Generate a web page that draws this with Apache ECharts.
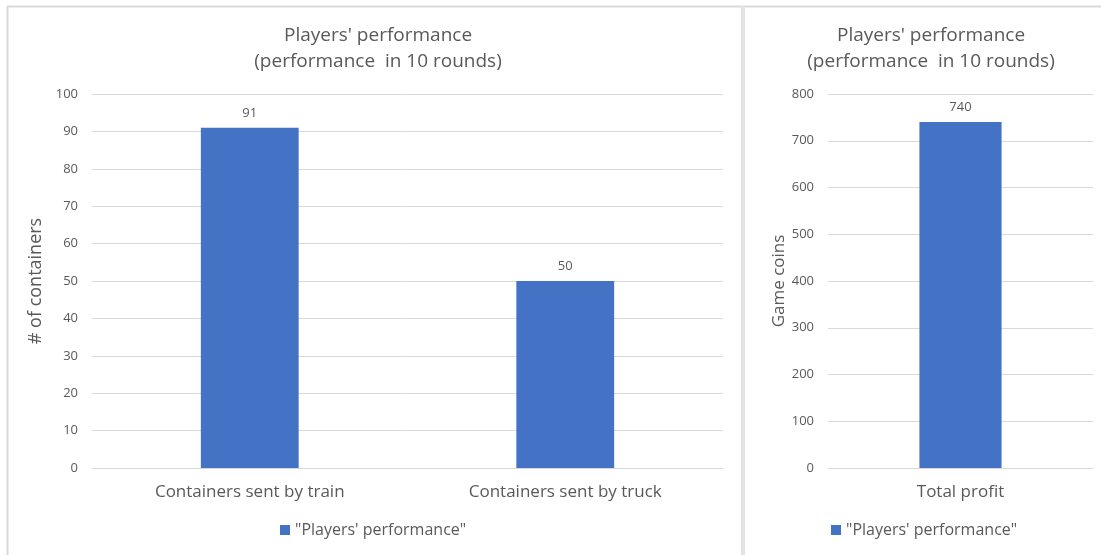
<!DOCTYPE html>
<html><head><meta charset="utf-8">
<script src="https://cdn.jsdelivr.net/npm/echarts@6/dist/echarts.min.js"></script>
<style>html,body{margin:0;padding:0;background:#fff}#c{width:1101px;height:555px}</style>
</head><body><div id="c"></div>
<script>
const titleText = "Players' performance\n(performance  in 10 rounds)";
const seriesName = "\"Players' performance\"";
const leftCategories = ["Containers sent by train", "Containers sent by truck"];
const leftValues = [91, 50];
const rightCategories = ["Total profit"];
const rightValues = [740];
const leftAxisName = "# of containers";
const rightAxisName = "Game coins";

const txt = '#595959', grid = '#d9d9d9', blue = '#4472c4', font = 'Segoe UI, "Open Sans", "Noto Sans", sans-serif';
const chart = echarts.init(document.getElementById('c'));
const yAx = (max, interval, name, gridIndex) => ({
  type: 'value', gridIndex, min: 0, max, interval,
  name, nameLocation: 'middle', nameGap: gridIndex === 0 ? 39 : 40, nameRotate: 90,
  nameTextStyle: {color: txt, fontSize: gridIndex === 0 ? 18 : 17, fontFamily: font},
  axisLine: {show: false}, axisTick: {show: false},
  axisLabel: {color: txt, fontSize: 13, fontFamily: font, margin: 14},
  splitLine: {lineStyle: {color: grid, width: 1}}
});
const xAx = (data, gridIndex) => ({
  type: 'category', gridIndex, data,
  axisLine: {lineStyle: {color: grid}}, axisTick: {show: false},
  axisLabel: {color: txt, fontSize: 17, fontFamily: font, margin: 16}
});
const barS = (data, idx) => ({
  type: 'bar', name: seriesName, xAxisIndex: idx, yAxisIndex: idx, data,
  barWidth: '31%', itemStyle: {color: blue},
  label: {show: true, position: 'top', color: txt, fontSize: 13, fontFamily: font, distance: 8}
});
chart.setOption({
  animation: false,
  title: [
    {text: titleText, left: 373, top: 18, textAlign: 'center', textStyle: {color: txt, fontSize: 19, fontWeight: 'normal', fontFamily: font, lineHeight: 26}},
    {text: titleText, left: 926, top: 18, textAlign: 'center', textStyle: {color: txt, fontSize: 19, fontWeight: 'normal', fontFamily: font, lineHeight: 26}}
  ],
  legend: [
    {data: [seriesName], left: 275, top: 517, itemWidth: 10, itemHeight: 10, icon: 'rect', textStyle: {color: txt, fontSize: 16, fontFamily: font}},
    {data: [seriesName], left: 826, top: 517, itemWidth: 10, itemHeight: 10, icon: 'rect', textStyle: {color: txt, fontSize: 16, fontFamily: font}}
  ],
  grid: [
    {left: 92, top: 94, width: 631, height: 374},
    {left: 828, top: 94, width: 265, height: 374}
  ],
  xAxis: [xAx(leftCategories, 0), xAx(rightCategories, 1)],
  yAxis: [yAx(100, 10, leftAxisName, 0), yAx(800, 100, rightAxisName, 1)],
  series: [barS(leftValues, 0), barS(rightValues, 1)],
  graphic: [
    {type: 'line', shape: {x1: 7, y1: 6.5, x2: 1101, y2: 6.5}, style: {stroke: grid, lineWidth: 2}},
    {type: 'line', shape: {x1: 7.5, y1: 6, x2: 7.5, y2: 555}, style: {stroke: grid, lineWidth: 2}},
    {type: 'rect', shape: {x: 741, y: 6, width: 4, height: 549}, style: {fill: '#e3e3e3'}}
  ]
});
</script></body></html>
